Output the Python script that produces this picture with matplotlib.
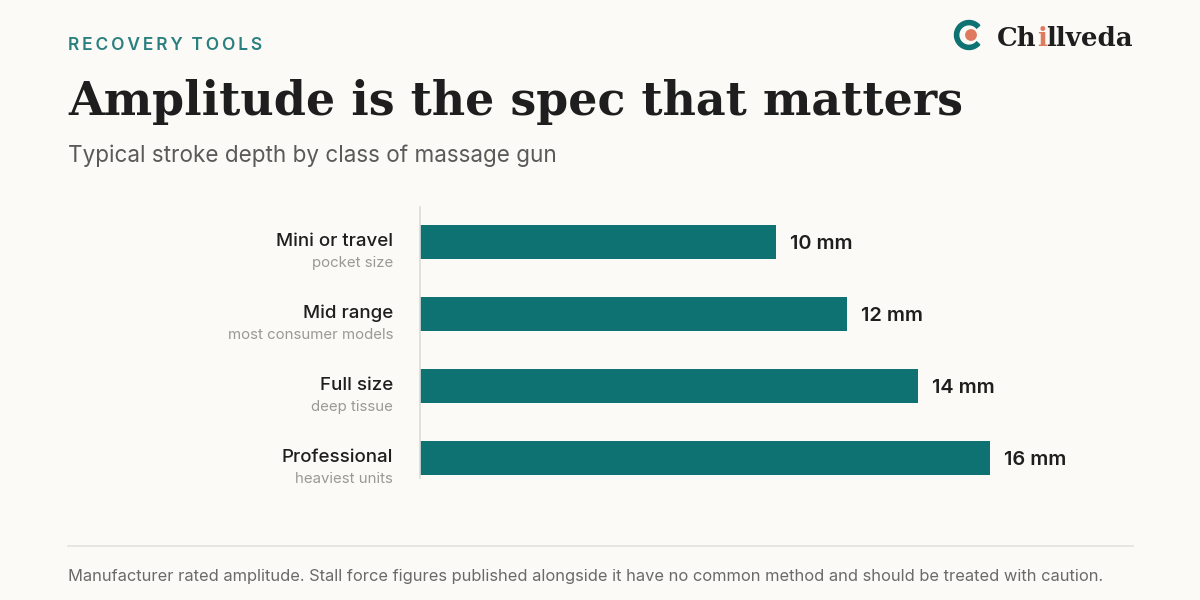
import matplotlib
matplotlib.use("Agg")
import matplotlib.pyplot as plt
from matplotlib import transforms
from matplotlib.patches import Wedge, Circle

categories = ["Mini or travel", "Mid range", "Full size", "Professional"]
subtitles = ["pocket size", "most consumer models", "deep tissue", "heaviest units"]
values = [10, 12, 14, 16]
value_labels = ["10 mm", "12 mm", "14 mm", "16 mm"]

BG = "#FBFAF6"
TEAL = "#0F7272"
KICK = "#2A7F7F"
ORANGE = "#E07A5F"
DARK = "#1E1E1E"
W, H = 1200, 600

fig = plt.figure(figsize=(12, 6), dpi=100, facecolor=BG)
SANS = ["Inter", "DejaVu Sans"]
SERIF = ["DejaVu Serif"]

def fx(px): return px / W
def fy(py): return 1 - py / H

renderer = fig.canvas.get_renderer()

# Kicker
fig.text(fx(68), fy(45), "\u2009".join("RECOVERY") + "\u2002" + "\u2009".join("TOOLS"),
         family=SANS, fontsize=12.5, fontweight="semibold", color=KICK, va="center", ha="left")

# Title fitted to width
title = fig.text(fx(68), fy(115), "Amplitude is the spec that matters", family=SERIF,
                 fontsize=40, fontweight="bold", color=DARK, va="baseline", ha="left")
bb = title.get_window_extent(renderer)
title.set_fontsize(40 * 892 / bb.width)

fig.text(fx(68), fy(156), "Typical stroke depth by class of massage gun", family=SANS,
         fontsize=16.2, color="#5A5A5A", va="center", ha="left")

# Chart axes
ax = fig.add_axes([fx(420), fy(478), fx(1132) - fx(420), (478 - 207) / H])
ax.set_facecolor(BG)
ypos = list(range(len(categories)))
bars = ax.barh(ypos, values, height=0.47, color=TEAL, zorder=2)
ax.set_xlim(0, 20)
ax.set_ylim(len(categories) - 1 + 0.278, -0.486)
for s in ["top", "right", "bottom"]:
    ax.spines[s].set_visible(False)
ax.spines["left"].set_color("#DDDBD5")
ax.spines["left"].set_linewidth(1.2)
ax.set_xticks([])
ax.set_yticks([])

lab_tr = transforms.blended_transform_factory(fig.transFigure, ax.transData)
for i, (c, s) in enumerate(zip(categories, subtitles)):
    ax.text(fx(393), i - 0.005, c, transform=lab_tr, ha="right", va="center",
            family=SANS, fontsize=13.5, fontweight="medium", color=DARK)
    ax.text(fx(393), i + 0.285, s, transform=lab_tr, ha="right", va="center",
            family=SANS, fontsize=10.8, color="#9A9A94")

val_tr = transforms.offset_copy(ax.transData, fig=fig, x=14, y=0, units="dots")
for i, (v, t) in enumerate(zip(values, value_labels)):
    ax.text(v, i + 0.025, t, transform=val_tr, ha="left", va="center", family=SANS,
            fontsize=14.4, fontweight="semibold", color=DARK)

# Footer
fig.add_artist(plt.Line2D([fx(68), fx(1133)], [fy(546), fy(546)], color="#E4E2DC", lw=1.2))
fig.text(fx(68), fy(576), "Manufacturer rated amplitude. Stall force figures published alongside it have no common method and should be treated with caution.",
         family=SANS, fontsize=11.85, color="#6A6A6A", va="center", ha="left")

# Logo
lax = fig.add_axes([fx(952), fy(52), 34 / W, 34 / H])
lax.set_xlim(-17, 17); lax.set_ylim(-17, 17); lax.axis("off")
lax.add_patch(Wedge((0, 0), 14.5, 42, 318, width=4.2, color=TEAL))
lax.add_patch(Circle((2, 0), 5.2, color=ORANGE))

x0 = 997
parts = [("Ch", DARK), ("i", ORANGE), ("llveda", DARK)]
size = 19
texts = []
for p, col in parts:
    t = fig.text(fx(x0), fy(46), p, family=SERIF, fontsize=size, fontweight="bold",
                 color=col, va="baseline", ha="left")
    texts.append(t)
    x0 += t.get_window_extent(renderer).width
total = x0 - 997
scale = 136 / total
x0 = 997
for t in texts:
    t.set_fontsize(size * scale)
    t.set_x(fx(x0))
    x0 += t.get_window_extent(renderer).width

fig.savefig("out.png", dpi=100, facecolor=BG)
